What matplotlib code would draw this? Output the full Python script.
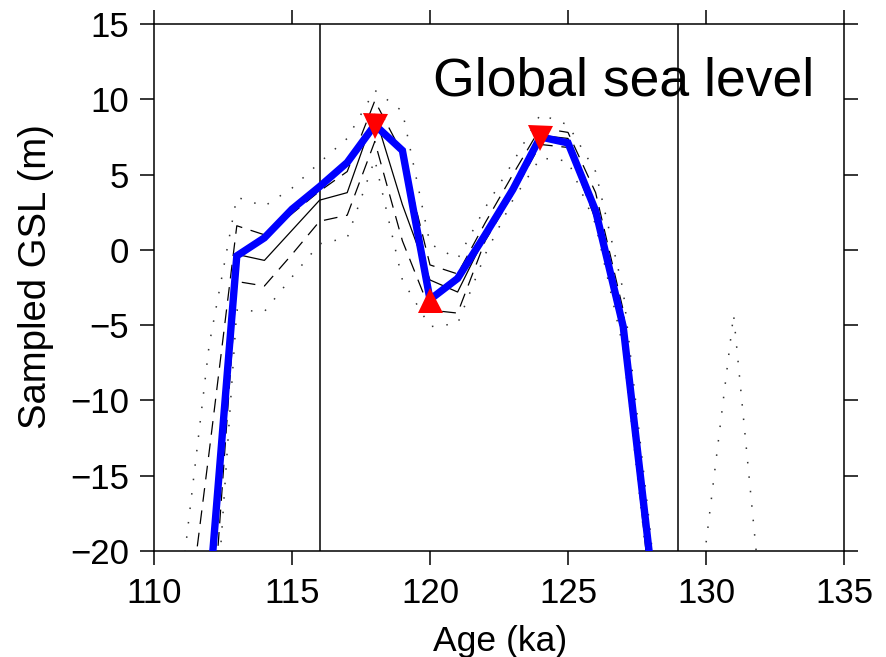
import numpy as np
import matplotlib
matplotlib.use("Agg")
import matplotlib.pyplot as plt

plt.rcParams['font.family'] = ['Liberation Sans', 'DejaVu Sans']

nan = np.nan

# Age axis (ka)
age = np.arange(111, 133)

# Best-fit sampled global sea level (m)
gsl_best = [nan, -23.0, -0.4, 0.8, 2.7, 4.2, 5.8, 8.3, 6.6, -3.3, -1.9, 1.0,
            4.0, 7.5, 7.1, 2.6, -5.1, -21.0, nan, nan, nan, nan]

# Median of the ensemble
gsl_median = [nan, -22.0, -0.3, -0.7, 1.3, 3.3, 3.8, 9.0, 3.0, -2.0, -2.8, 0.9,
              4.3, 7.6, 7.4, 2.9, -4.6, -21.5, nan, nan, nan, nan]

# One-sigma envelope
gsl_1s_hi = [-28.0, -13.4, 1.6, 1.0, 2.4, 3.9, 5.2, 9.9, 6.4, -1.0, -1.6, 1.8,
             5.0, 8.1, 7.8, 3.8, -4.0, -20.5, nan, nan, nan, nan]
gsl_1s_lo = [nan, -28.0, -2.1, -2.4, -0.3, 1.9, 2.3, 7.2, 0.6, -4.0, -4.2, 0.6,
             3.7, 7.0, 6.8, 2.0, -5.8, -23.0, nan, nan, nan, nan]

# Two-sigma envelope
gsl_2s_hi = [-22.0, -6.3, 3.5, 2.9, 4.1, 5.8, 7.4, 10.6, 9.2, 0.4, -0.6, 2.8,
             5.8, 9.0, 8.3, 5.2, -2.7, -19.0, -40.0, -19.5, -4.3, -23.5]
gsl_2s_lo = [nan, -31.0, -4.0, -4.1, -1.8, 0.4, 0.8, 6.0, -2.0, -5.1, -4.9, -0.3,
             3.3, 6.1, 5.9, 1.7, -6.5, -23.0, nan, nan, nan, nan]

# Highstand / lowstand picks
peak_age = [118, 124]
peak_gsl = [8.2, 7.4]
trough_age = [120]
trough_gsl = [-3.3]

# Interval boundaries (ka)
bounds = [116, 129]

fig = plt.figure(figsize=(8.87, 6.57), dpi=100)
ax = fig.add_axes([154 / 887, 1 - 551 / 657, 690 / 887, 527 / 657])

dotted = (0, (1.0, 8.5))
dashed = (0, (11, 7))

ax.plot(age, gsl_2s_hi, color='#333333', lw=1.1, linestyle=dotted, zorder=2)
ax.plot(age, gsl_2s_lo, color='#333333', lw=1.1, linestyle=dotted, zorder=2)
ax.plot(age, gsl_1s_hi, color='black', lw=0.9, linestyle=dashed, zorder=2)
ax.plot(age, gsl_1s_lo, color='black', lw=0.9, linestyle=dashed, zorder=2)
ax.plot(age, gsl_median, color='black', lw=0.9, zorder=2)

for b in bounds:
    ax.axvline(b, color='black', lw=1.1, zorder=1)

ax.plot(age, gsl_best, color='#0000ff', lw=5.3, solid_joinstyle='miter', zorder=3)

ax.plot(peak_age, peak_gsl, linestyle='none', marker='v', color='#ff0000',
        markersize=18, markeredgewidth=0, zorder=4)
ax.plot(trough_age, trough_gsl, linestyle='none', marker='^', color='#ff0000',
        markersize=18, markeredgewidth=0, zorder=4)

ax.set_xlim(110, 135)
ax.set_ylim(-20, 15)
ax.set_xticks([110, 115, 120, 125, 130, 135])
ax.set_yticks([-20, -15, -10, -5, 0, 5, 10, 15])

for s in ax.spines.values():
    s.set_linewidth(1.1)

ax.tick_params(axis='both', direction='out', length=10, width=1.1,
               top=True, right=True, labelsize=25)
ax.tick_params(axis='x', pad=9)
ax.tick_params(axis='y', pad=8)

ax.set_xlabel('Age (ka)', fontsize=25.5)
ax.set_ylabel('Sampled GSL (m)', fontsize=27.5)
ax.xaxis.set_label_coords(0.501, -0.14)
ax.yaxis.set_label_coords(-0.145, 0.52)

ax.text(0.404, 0.865, 'Global sea level', transform=ax.transAxes,
        fontsize=38.5, ha='left', va='baseline', zorder=5)

fig.savefig('out.png', dpi=100)
